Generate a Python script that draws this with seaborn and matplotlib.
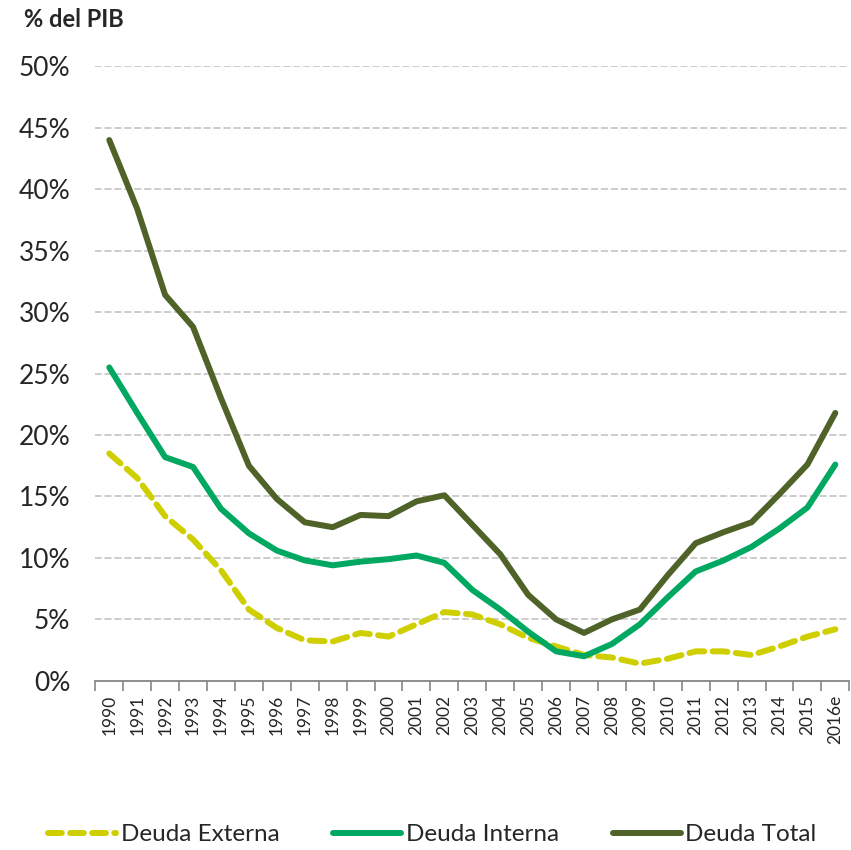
import matplotlib
matplotlib.use("Agg")
import matplotlib.pyplot as plt
import seaborn as sns
import pandas as pd
import numpy as np
from matplotlib.ticker import FixedLocator, PercentFormatter
from matplotlib.lines import Line2D

years = ["1990", "1991", "1992", "1993", "1994", "1995", "1996", "1997", "1998", "1999",
         "2000", "2001", "2002", "2003", "2004", "2005", "2006", "2007", "2008", "2009",
         "2010", "2011", "2012", "2013", "2014", "2015", "2016e"]
deuda_externa = [18.5, 16.5, 13.4, 11.5, 9.0, 5.8, 4.3, 3.3, 3.2, 3.9,
                 3.6, 4.6, 5.6, 5.4, 4.6, 3.5, 2.8, 2.1, 1.9, 1.4,
                 1.8, 2.4, 2.4, 2.1, 2.8, 3.6, 4.2]
deuda_interna = [25.5, 21.8, 18.2, 17.4, 14.0, 12.0, 10.6, 9.8, 9.4, 9.7,
                 9.9, 10.2, 9.6, 7.4, 5.8, 4.0, 2.4, 2.0, 3.0, 4.6,
                 6.8, 8.9, 9.8, 10.9, 12.4, 14.1, 17.6]
deuda_total = [44.0, 38.4, 31.4, 28.8, 23.0, 17.5, 14.8, 12.9, 12.5, 13.5,
               13.4, 14.6, 15.1, 12.7, 10.3, 7.0, 5.0, 3.9, 5.0, 5.8,
               8.6, 11.2, 12.1, 12.9, 15.2, 17.6, 21.8]
series_names = ["Deuda Externa", "Deuda Interna", "Deuda Total"]
series_vals = [deuda_externa, deuda_interna, deuda_total]
colors = ["#CFCF00", "#00A862", "#4F6228"]

sns.set_theme(style="white")
plt.rcParams["font.family"] = ["Lato", "DejaVu Sans"]

rows = []
for name, vals in zip(series_names, series_vals):
    for i, v in enumerate(vals):
        rows.append({"idx": i, "serie": name, "val": v})
df = pd.DataFrame(rows)

fig = plt.figure(figsize=(8.51, 8.50), dpi=100)
ax = fig.add_axes([0.112, 0.199, 0.886, 0.723])

ax.set_axisbelow(True)
for y in range(5, 55, 5):
    ax.axhline(y, color="#BFBFBF", lw=1.1, ls=(0, (4, 2.5)), zorder=0)

sns.lineplot(data=df, x="idx", y="val", hue="serie", style="serie",
             hue_order=series_names, style_order=series_names,
             palette=colors,
             dashes={"Deuda Externa": (2.5, 1.4), "Deuda Interna": "", "Deuda Total": ""},
             linewidth=4.3, ax=ax, legend=False, zorder=3)
for l in ax.get_lines():
    l.set_solid_capstyle("round")
    l.set_dash_capstyle("round")
    l.set_solid_joinstyle("round")

ax.set_xlim(-0.5, len(years) - 0.5)
ax.set_ylim(0, 50)
ax.yaxis.set_major_locator(FixedLocator(list(range(0, 55, 5))))
ax.yaxis.set_major_formatter(PercentFormatter(decimals=0))
ax.set_xticks(range(len(years)))
ax.set_xticklabels(years, rotation=90, fontsize=12.5)
ax.xaxis.set_minor_locator(FixedLocator(np.arange(-0.5, len(years), 1.0)))
ax.tick_params(axis="x", which="major", length=0, pad=10)
ax.tick_params(axis="x", which="minor", length=7, width=1.2, color="#868686", direction="out", bottom=True)
ax.tick_params(axis="y", which="major", length=0, labelsize=19, pad=18)
ax.set_xlabel("")
ax.set_ylabel("")
for s in ["top", "right", "left"]:
    ax.spines[s].set_visible(False)
ax.spines["bottom"].set_color("#868686")
ax.spines["bottom"].set_linewidth(1.3)

fig.text(0.028, 0.977, "% del PIB", fontsize=17, fontweight="bold", va="center", ha="left")

handles = [
    Line2D([], [], color=colors[0], lw=4.3, ls=(0, (2.3, 1.4)), dash_capstyle="round"),
    Line2D([], [], color=colors[1], lw=4.3, solid_capstyle="round"),
    Line2D([], [], color=colors[2], lw=4.3, solid_capstyle="round"),
]
fig.legend(handles, series_names, loc="center", bbox_to_anchor=(0.508, 0.018), ncol=3,
           frameon=False, fontsize=17.5, handlelength=2.8, handletextpad=0.2, columnspacing=2.2)

fig.savefig("out.png", dpi=100)
